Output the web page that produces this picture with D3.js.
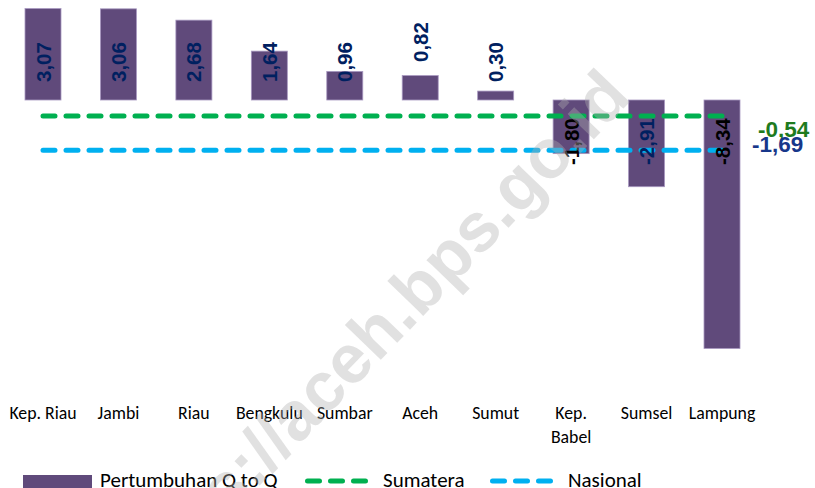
<!DOCTYPE html>
<html>
<head>
<meta charset="utf-8">
<script src="https://cdn.jsdelivr.net/npm/d3@7"></script>
<style>
  html, body { margin: 0; padding: 0; background: #fff; }
  svg { display: block; }
</style>
</head>
<body>
<svg id="chart" width="815" height="488"></svg>
<script>
// ---- data ----
const categories = ["Kep. Riau", "Jambi", "Riau", "Bengkulu", "Sumbar", "Aceh", "Sumut", "Kep. Babel", "Sumsel", "Lampung"];
const pertumbuhan = [3.07, 3.06, 2.68, 1.64, 0.96, 0.82, 0.30, -1.80, -2.91, -8.34];
const sumatera = [-0.54, -0.54, -0.54, -0.54, -0.54, -0.54, -0.54, -0.54, -0.54, -0.54];
const nasional = [-1.69, -1.69, -1.69, -1.69, -1.69, -1.69, -1.69, -1.69, -1.69, -1.69];
const seriesNames = ["Pertumbuhan Q to Q", "Sumatera", "Nasional"];
const watermarkText = "https://aceh.bps.go.id";

// ---- style ----
const barColor = "#604a7b";
const greenColor = "#00b050";
const blueColor = "#00b0f0";
const navy = "#002060";
const labelFont = "'Liberation Sans', Arial, sans-serif";
const textFont = "Carlito, Lato, 'Open Sans', sans-serif";

const svg = d3.select("#chart");

const x = d3.scalePoint().domain(categories).range([43, 722]);
const y = d3.scaleLinear().domain([0, -8.34]).range([100, 348.5]);
const barW = 36;
const fmt = v => d3.format(".2f")(v).replace(".", ",").replace("−", "-");

// bars
svg.append("g").selectAll("rect")
  .data(categories.map((c, i) => ({c, v: pertumbuhan[i]})))
  .join("rect")
  .attr("x", d => x(d.c) - barW / 2)
  .attr("y", d => Math.min(y(d.v), y(0)))
  .attr("width", barW)
  .attr("height", d => Math.abs(y(d.v) - y(0)))
  .attr("fill", barColor)
  .attr("stroke", "#a898c0")
  .attr("stroke-width", 0.8);

// dashed lines
const line = d3.line().x((d, i) => x(categories[i])).y(d => y(d));
[[sumatera, greenColor, 0], [nasional, blueColor, 0]].forEach(([data, col, off]) => {
  svg.append("path")
    .attr("d", line(data))
    .attr("fill", "none")
    .attr("stroke", col)
    .attr("stroke-width", 5)
    .attr("stroke-linecap", "round")
    .attr("stroke-dasharray", "12 11")
    .attr("stroke-dashoffset", off);
});

// value labels (rotated), drawn above lines
const raised = ["Aceh"];
const negColors = {"Kep. Babel": "#000", "Sumsel": navy, "Lampung": "#000"};
svg.append("g").selectAll("text")
  .data(categories.map((c, i) => ({c, v: pertumbuhan[i]})))
  .join("text")
  .attr("transform", d => {
    const yy = d.v >= 0 ? (raised.includes(d.c) ? y(0) - 38 : y(0) - 18) : y(0) + 65;
    return `translate(${x(d.c) + 7.5},${yy}) rotate(-90)`;
  })
  .attr("text-anchor", "start")
  .attr("font-family", labelFont)
  .attr("font-weight", "bold")
  .attr("font-size", 20.5)
  .attr("fill", d => d.v >= 0 ? navy : negColors[d.c])
  .text(d => fmt(d.v));

// end labels for lines
const lastC = categories[categories.length - 1];
svg.append("text")
  .attr("x", x(lastC) + 36).attr("y", y(sumatera[sumatera.length - 1]) + 21)
  .attr("font-family", labelFont).attr("font-weight", "bold").attr("font-size", 22.5)
  .attr("fill", "#1e7b1e")
  .text(fmt(sumatera[sumatera.length - 1]));
svg.append("text")
  .attr("x", x(lastC) + 30).attr("y", y(nasional[nasional.length - 1]) + 2)
  .attr("font-family", labelFont).attr("font-weight", "bold").attr("font-size", 22.5)
  .attr("fill", "#17378a")
  .text(fmt(nasional[nasional.length - 1]));

// category labels
const catG = svg.append("g");
categories.forEach(c => {
  const t = catG.append("text")
    .attr("x", x(c)).attr("y", 419)
    .attr("text-anchor", "middle")
    .attr("font-family", textFont)
    .attr("font-size", 17.8)
    .attr("fill", "#000");
  if (c === "Kep. Babel") {
    t.append("tspan").attr("x", x(c)).attr("dy", 0).text("Kep.");
    t.append("tspan").attr("x", x(c)).attr("dy", 24).text("Babel");
  } else {
    t.text(c);
  }
});

// legend
const lg = svg.append("g");
lg.append("rect").attr("x", 23).attr("y", 475).attr("width", 69).attr("height", 13).attr("fill", barColor);
lg.append("text").attr("x", 100).attr("y", 487).attr("font-family", textFont).attr("font-size", 21).text(seriesNames[0]);
lg.append("line").attr("x1", 307.5).attr("x2", 365.5).attr("y1", 481).attr("y2", 481)
  .attr("stroke", greenColor).attr("stroke-width", 5).attr("stroke-linecap", "round").attr("stroke-dasharray", "12 11");
lg.append("text").attr("x", 383).attr("y", 487).attr("font-family", textFont).attr("font-size", 21).text(seriesNames[1]);
lg.append("line").attr("x1", 492.5).attr("x2", 550.5).attr("y1", 481).attr("y2", 481)
  .attr("stroke", blueColor).attr("stroke-width", 5).attr("stroke-linecap", "round").attr("stroke-dasharray", "12 11");
lg.append("text").attr("x", 568).attr("y", 487).attr("font-family", textFont).attr("font-size", 21).text(seriesNames[2]);

// watermark
const wm = svg.append("text")
  .attr("x", 0).attr("y", 0)
  .attr("font-family", labelFont)
  .attr("font-weight", "bold")
  .attr("font-size", 69)
  .attr("fill", "#b0b0b0")
  .attr("fill-opacity", 0.38)
  .text(watermarkText);
const node = wm.node();
const dotIdx = 16;
const offset = node.getSubStringLength(0, dotIdx) + node.getSubStringLength(dotIdx, 1) / 2;
wm.attr("transform", `translate(512,224) rotate(-46) translate(${-offset},0)`);
</script>
</body>
</html>
